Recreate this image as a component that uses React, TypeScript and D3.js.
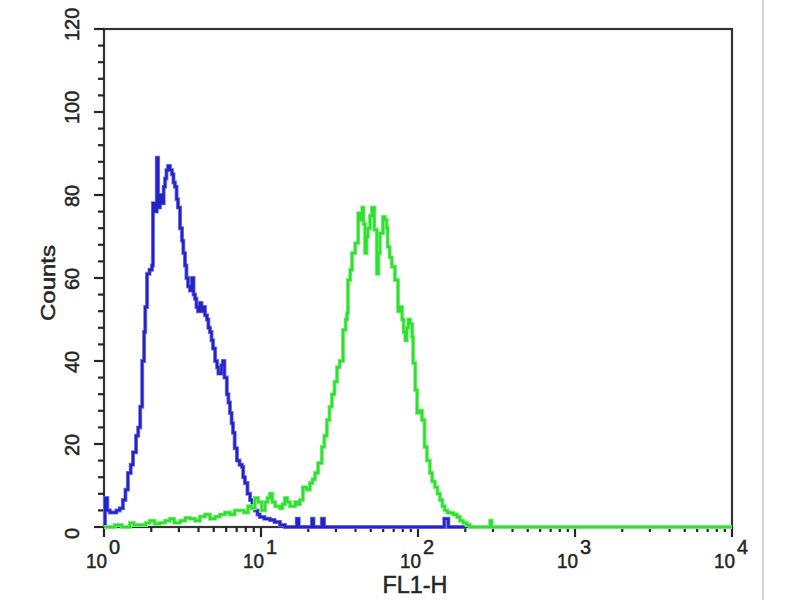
import React from "react";
import * as d3 from "d3";

// Blue histogram (FL1-H value, counts)
const blueFL1 = [1.0, 1.015, 1.05, 1.09, 1.15, 1.2, 1.26, 1.32, 1.37, 1.42, 1.48, 1.53, 1.6, 1.65, 1.7, 1.75, 1.8, 1.83, 1.88, 1.95, 2.02, 2.05, 2.1, 2.17, 2.21, 2.27, 2.34, 2.4, 2.45, 2.5, 2.56, 2.63, 2.71, 2.77, 2.83, 2.9, 2.96, 3.05, 3.14, 3.2, 3.28, 3.35, 3.43, 3.53, 3.63, 3.72, 3.8, 3.88, 3.97, 4.08, 4.18, 4.27, 4.4, 4.53, 4.62, 4.73, 4.84, 4.95, 5.1, 5.25, 5.35, 5.47, 5.6, 5.72, 5.85, 6.06, 6.2, 6.34, 6.5, 6.63, 6.8, 7.03, 7.3, 7.56, 7.7, 7.9, 8.2, 8.52, 8.8, 9.14, 9.5, 9.83, 10.5, 11.4, 12.2, 13.2, 14.2, 16.2, 16.9, 17.4, 20.5, 21.1, 21.6, 23.6, 24.4, 25.2, 144, 147, 152, 156, 200];
const blueCounts = [0, 7, 4, 3.5, 3.5, 4, 4.5, 6.5, 9, 13, 15, 18, 22, 24, 29, 40, 47, 53, 61, 62, 63, 78, 76, 89, 77, 80, 78, 82, 84, 86, 87, 86, 85, 83, 82, 79, 77, 72, 69, 66, 63, 60, 58, 57, 60, 56, 55, 53, 52, 54, 52, 53, 51, 50, 48, 47, 45, 43, 40, 38.5, 37, 37, 39, 40, 36, 32, 30, 27.5, 25, 22.7, 19, 16, 15, 14.5, 12, 10.6, 8, 6.5, 5, 4, 3, 2.4, 2, 1.7, 1.2, 0.5, 0, 0, 2, 0, 0, 2, 0, 0, 2, 0, 0, 2, 2, 0, 0];

// Green histogram (FL1-H value, counts)
const greenFL1 = [1.0, 1.17, 1.3, 1.46, 1.55, 1.7, 1.85, 1.96, 2.1, 2.27, 2.45, 2.63, 2.8, 3.05, 3.3, 3.53, 3.8, 4.08, 4.4, 4.73, 5.1, 5.47, 5.9, 6.34, 6.8, 7.34, 7.8, 8.27, 8.7, 9.14, 9.57, 10.1, 10.6, 11.0, 11.4, 11.8, 12.3, 13.2, 13.7, 14.2, 14.7, 15.3, 16.5, 17.1, 17.7, 18.5, 19.5, 20.5, 21.3, 22.1, 23.1, 24.4, 25.3, 26.3, 27.3, 28.3, 29.4, 30.5, 31.7, 33.3, 34.6, 35.3, 35.8, 37, 38, 39.8, 41.6, 43, 44.1, 45, 46, 47, 48, 49.5, 50.9, 52.7, 54.7, 56, 57.2, 59.8, 61.5, 63.2, 64.1, 66, 68.1, 71.3, 74.6, 77, 79.2, 81, 82.9, 84.8, 86.8, 89, 91.8, 93.1, 96, 98.7, 102, 106, 110, 114, 119, 123, 128, 133, 138, 143, 148, 154, 160, 168, 177, 185, 194, 204, 214, 280, 288, 295, 10000];
const greenCounts = [0, 0.5, 0, 1, 0.5, 0.5, 1, 1.5, 0.8, 1, 1.5, 2, 1, 1.5, 2.2, 2, 1.5, 2.5, 3, 2, 2.5, 3, 3.5, 3, 4, 4, 3.5, 5, 4.5, 7, 6, 4, 6, 7, 8, 6, 5, 4.5, 5.5, 7, 6, 5, 6, 5.5, 6.5, 9.6, 9, 10.6, 11.5, 13, 15.4, 19.3, 22, 25.8, 29, 32, 35, 38.5, 40, 47.5, 50, 51.5, 59.5, 62, 66, 68.4, 75.6, 74, 77, 73, 66, 70, 72, 75, 77, 71.6, 61, 66, 70.8, 74.7, 74, 72, 67.5, 65, 62.7, 59.5, 52, 53, 50, 47, 45, 48, 50, 49, 45.8, 39.5, 33, 27.5, 28, 25.8, 19.3, 16, 13, 11, 9.6, 8, 6.5, 5, 4, 3.5, 3.4, 3, 2.4, 1.5, 1, 0.5, 0, 0, 1.5, 0, 0];

const yTickValues = [0, 20, 40, 60, 80, 100, 120];
const xDecades = [0, 1, 2, 3, 4];

const W = 800;
const H = 600;
const x = d3.scaleLog().domain([1, 10000]).range([104, 732]);
const y = d3.scaleLinear().domain([0, 120]).range([527, 29]);

export default function App() {
  const line = d3
    .line<[number, number]>()
    .x((d) => x(d[0]))
    .y((d) => y(d[1]))
    .curve(d3.curveStepAfter);
  const blue = blueFL1.map((v, i) => [v, blueCounts[i]] as [number, number]);
  const green = greenFL1.map((v, i) => [v, greenCounts[i]] as [number, number]);

  const yMinor = d3.range(0, 121, 4).filter((v) => v % 20 !== 0);
  const xMinor: number[] = [];
  for (let d = 0; d < 4; d++) for (let k = 2; k <= 9; k++) xMinor.push(k * Math.pow(10, d));

  const ink = "#262626";
  const font = "'Liberation Sans', Arial, sans-serif";
  const textStroke = { stroke: ink, strokeWidth: 0.5 };

  return (
    <svg width={W} height={H} style={{ position: "absolute", left: 0, top: 0, background: "#fff" }}>
      <rect x={0} y={0} width={W} height={H} fill="#fff" />
      <line x1={763} x2={763} y1={0} y2={H} stroke="#b8b8b8" strokeWidth={1.2} />
      {/* plot frame */}
      <rect x={x(1)} y={y(120)} width={x(10000) - x(1)} height={y(0) - y(120)} fill="none" stroke="#333" strokeWidth={2.2} />
      {/* y ticks */}
      {yTickValues.map((v) => (
        <line key={"ym" + v} x1={x(1) - 10} x2={x(1)} y1={y(v)} y2={y(v)} stroke={ink} strokeWidth={2.2} />
      ))}
      {yMinor.map((v) => (
        <line key={"yn" + v} x1={x(1) - 6} x2={x(1)} y1={y(v)} y2={y(v)} stroke={ink} strokeWidth={2.2} />
      ))}
      {yTickValues.map((v) => (
        <text
          key={"yl" + v}
          transform={`translate(79,${y(v) + 12}) rotate(-90)`}
          fontFamily={font}
          fontSize={20}
          fill={ink}
          {...textStroke}
          textAnchor="start"
        >
          {v}
        </text>
      ))}
      <text
        transform={`translate(55,283) rotate(-90)`}
        fontFamily={font}
        fontSize={20}
        fill={ink}
        {...textStroke}
        textAnchor="middle"
        textLength={76}
        lengthAdjust="spacingAndGlyphs"
      >
        Counts
      </text>
      {/* x ticks */}
      {xMinor.map((v) => (
        <line key={"xn" + v} x1={x(v)} x2={x(v)} y1={y(0)} y2={y(0) + 5} stroke={ink} strokeWidth={2.2} />
      ))}
      {xDecades.map((d) => (
        <line key={"xm" + d} x1={x(Math.pow(10, d))} x2={x(Math.pow(10, d))} y1={y(0)} y2={y(0) + 10} stroke={ink} strokeWidth={2.2} />
      ))}
      {xDecades.map((d) => (
        <g key={"xl" + d} fontFamily={font} fill={ink} {...textStroke}>
          <text x={x(Math.pow(10, d)) + 3} y={568} fontSize={21} textAnchor="end" textLength={21} lengthAdjust="spacingAndGlyphs">
            10
          </text>
          <text x={x(Math.pow(10, d)) + 5} y={554} fontSize={20}>
            {d}
          </text>
        </g>
      ))}
      <text x={415} y={593} fontFamily={font} fontSize={23} fill={ink} {...textStroke} textAnchor="middle" textLength={65} lengthAdjust="spacingAndGlyphs">
        FL1-H
      </text>
      {/* histograms */}
      <path d={line(blue) || ""} fill="none" stroke="#7a7ae4" strokeWidth={4} strokeLinejoin="miter" />
      <path d={line(blue) || ""} fill="none" stroke="#2323c8" strokeWidth={2.4} strokeLinejoin="miter" />
      <path d={line(green) || ""} fill="none" stroke="#86f086" strokeWidth={4} strokeLinejoin="miter" />
      <path d={line(green) || ""} fill="none" stroke="#2fe02f" strokeWidth={2.4} strokeLinejoin="miter" />
    </svg>
  );
}
